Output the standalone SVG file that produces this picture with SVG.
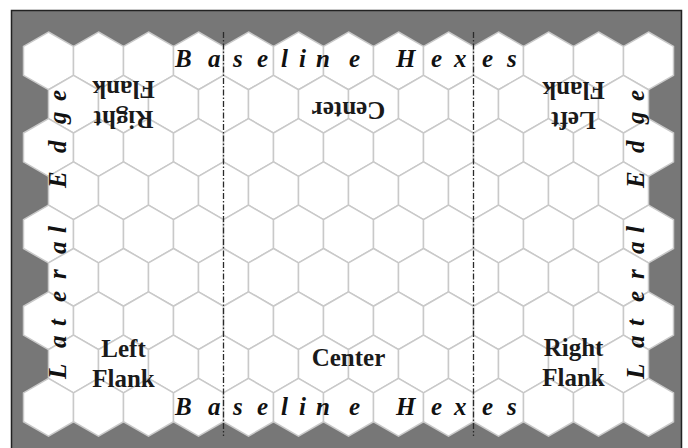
<svg xmlns="http://www.w3.org/2000/svg" xmlns:xlink="http://www.w3.org/1999/xlink" width="688" height="448" viewBox="0 0 688 448">
<style>
.hex{fill:#ffffff;stroke:#c9c9c9;stroke-width:1.5}
.div{stroke:#2a2a2a;stroke-width:1.3;stroke-dasharray:6 2 1.5 2;fill:none}
.edge{font-family:"Liberation Serif",serif;font-weight:bold;font-style:italic;font-size:25px;fill:#111}
.lbl{font-family:"Liberation Serif",serif;font-weight:bold;font-size:25px;fill:#1a1a1a;text-anchor:middle}
</style>
<defs>
<polygon id="h" class="hex" points="0,-28.868 25,-14.434 25,14.434 0,28.868 -25,14.434 -25,-14.434"/>
<g id="rowOdd">
<use href="#h" x="48.5"/><use href="#h" x="98.5"/><use href="#h" x="148.5"/><use href="#h" x="198.5"/><use href="#h" x="248.5"/><use href="#h" x="298.5"/><use href="#h" x="348.5"/><use href="#h" x="398.5"/><use href="#h" x="448.5"/><use href="#h" x="498.5"/><use href="#h" x="548.5"/><use href="#h" x="598.5"/><use href="#h" x="648.5"/>
</g>
<g id="rowEven">
<use href="#h" x="73.5"/><use href="#h" x="123.5"/><use href="#h" x="173.5"/><use href="#h" x="223.5"/><use href="#h" x="273.5"/><use href="#h" x="323.5"/><use href="#h" x="373.5"/><use href="#h" x="423.5"/><use href="#h" x="473.5"/><use href="#h" x="523.5"/><use href="#h" x="573.5"/><use href="#h" x="623.5"/>
</g>
</defs>
<rect id="board" x="11.5" y="10.5" width="670" height="440" fill="#777777" stroke="#222222" stroke-width="1.5"/>
<g id="hexgrid">
<use href="#rowOdd" y="60.87"/>
<use href="#rowEven" y="104.17"/>
<use href="#rowOdd" y="147.47"/>
<use href="#rowEven" y="190.77"/>
<use href="#rowOdd" y="234.07"/>
<use href="#rowEven" y="277.37"/>
<use href="#rowOdd" y="320.67"/>
<use href="#rowEven" y="363.97"/>
<use href="#rowOdd" y="407.27"/>
</g>
<g id="connectors">
<line class="div" x1="223.5" y1="32" x2="223.5" y2="436"/>
<line class="div" x1="473.5" y1="32" x2="473.5" y2="436"/>
</g>
<g id="baseline-top"><text class="edge" y="67" x="175 208 233 257 281 299 316 349 370 396 431 454 482 507">Baseline Hexes</text></g>
<g id="baseline-bottom"><text class="edge" y="415" x="175 208 233 257 281 299 316 349 370 396 431 454 482 507">Baseline Hexes</text></g>
<g id="lateral-left"><text class="edge" transform="translate(66,448) rotate(-90)" y="0" x="69 100 122 146 169 194 215 237 260 295 324 347">Lateral Edge</text></g>
<g id="lateral-right"><text class="edge" transform="translate(644,448) rotate(-90)" y="0" x="69 100 122 146 169 194 215 237 260 295 324 347">Lateral Edge</text></g>
<g id="left-flank-bottom"><text class="lbl" x="123.5" y="357">Left</text><text class="lbl" x="123.5" y="387">Flank</text></g>
<g id="center-bottom"><text class="lbl" x="348.5" y="366">Center</text></g>
<g id="right-flank-bottom"><text class="lbl" x="573.5" y="356">Right</text><text class="lbl" x="573.5" y="386">Flank</text></g>
<g id="right-flank-top" transform="rotate(180 123.5 234)"><text class="lbl" x="123.5" y="357">Right</text><text class="lbl" x="123.5" y="387">Flank</text></g>
<g id="center-top" transform="rotate(180 348.5 234)"><text class="lbl" x="348.5" y="366">Center</text></g>
<g id="left-flank-top" transform="rotate(180 573.5 234)"><text class="lbl" x="573.5" y="356">Left</text><text class="lbl" x="573.5" y="386">Flank</text></g>
</svg>
